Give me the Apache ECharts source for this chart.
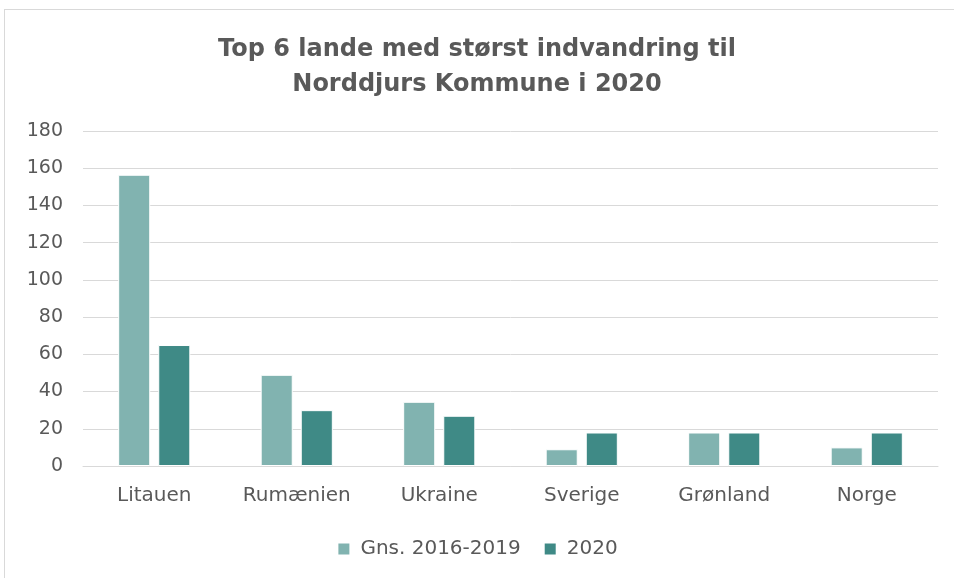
<!DOCTYPE html>
<html>
<head>
<meta charset="utf-8">
<script src="https://cdn.jsdelivr.net/npm/echarts@6/dist/echarts.min.js"></script>
<style>
html,body{margin:0;padding:0;background:#fff;}
#frame{position:absolute;left:4px;top:9px;width:960px;height:580px;border:1px solid #d9d9d9;}
#Chart{position:absolute;left:0;top:0;width:954px;height:578px;}
</style>
</head>
<body>
<div id="frame"></div>
<div id="Chart"></div>
<script>
var categories=['Litauen','Rumænien','Ukraine','Sverige','Grønland','Norge']
var gns=[156.5,49,34.5,9,18,10]
var y2020=[65,30,27,18,18,18]
var seriesNames=['Gns. 2016-2019','2020']
var fontName='"DejaVu Sans",sans-serif'

//图表
function drawChar(){
    var myChart=echarts.init(document.getElementById('Chart'))
    var option={
        animation:false,
        color:['#81b3b0','#3f8a86'],
        title:{
            text:'Top 6 lande med størst indvandring til\nNorddjurs Kommune i 2020',
            left:'center',
            top:27,
            textStyle:{
                fontFamily:fontName,
                fontSize:24,
                fontWeight:'bold',
                color:'#595959',
                lineHeight:35
            }
        },
        legend:{
            bottom:14,
            left:'center',
            icon:'rect',
            itemWidth:13,
            itemHeight:13,
            itemGap:22,
            textStyle:{fontFamily:fontName,fontSize:20,color:'#595959',padding:[0,0,0,5]},
            data:seriesNames
        },
        grid:{left:83,right:16,top:131,bottom:112},
        xAxis:{
            type:'category',
            data:categories,
            axisLine:{lineStyle:{color:'#d9d9d9',width:1}},
            axisTick:{show:false},
            axisLabel:{fontFamily:fontName,fontSize:20,color:'#595959',margin:20}
        },
        yAxis:{
            type:'value',
            min:0,
            max:180,
            interval:20,
            axisLine:{show:false},
            axisTick:{show:false},
            splitLine:{lineStyle:{color:'#d9d9d9',width:1}},
            axisLabel:{fontFamily:fontName,fontSize:19,color:'#595959',margin:20}
        },
        series:[
            {name:seriesNames[0],type:'bar',data:gns,barWidth:'22.5%',barGap:'25%',
             itemStyle:{borderColor:'#ffffff',borderWidth:1}},
            {name:seriesNames[1],type:'bar',data:y2020,barWidth:'22.5%',
             itemStyle:{borderColor:'#ffffff',borderWidth:1}}
        ]
    }
    myChart.setOption(option)
}
drawChar()
</script>
</body>
</html>
